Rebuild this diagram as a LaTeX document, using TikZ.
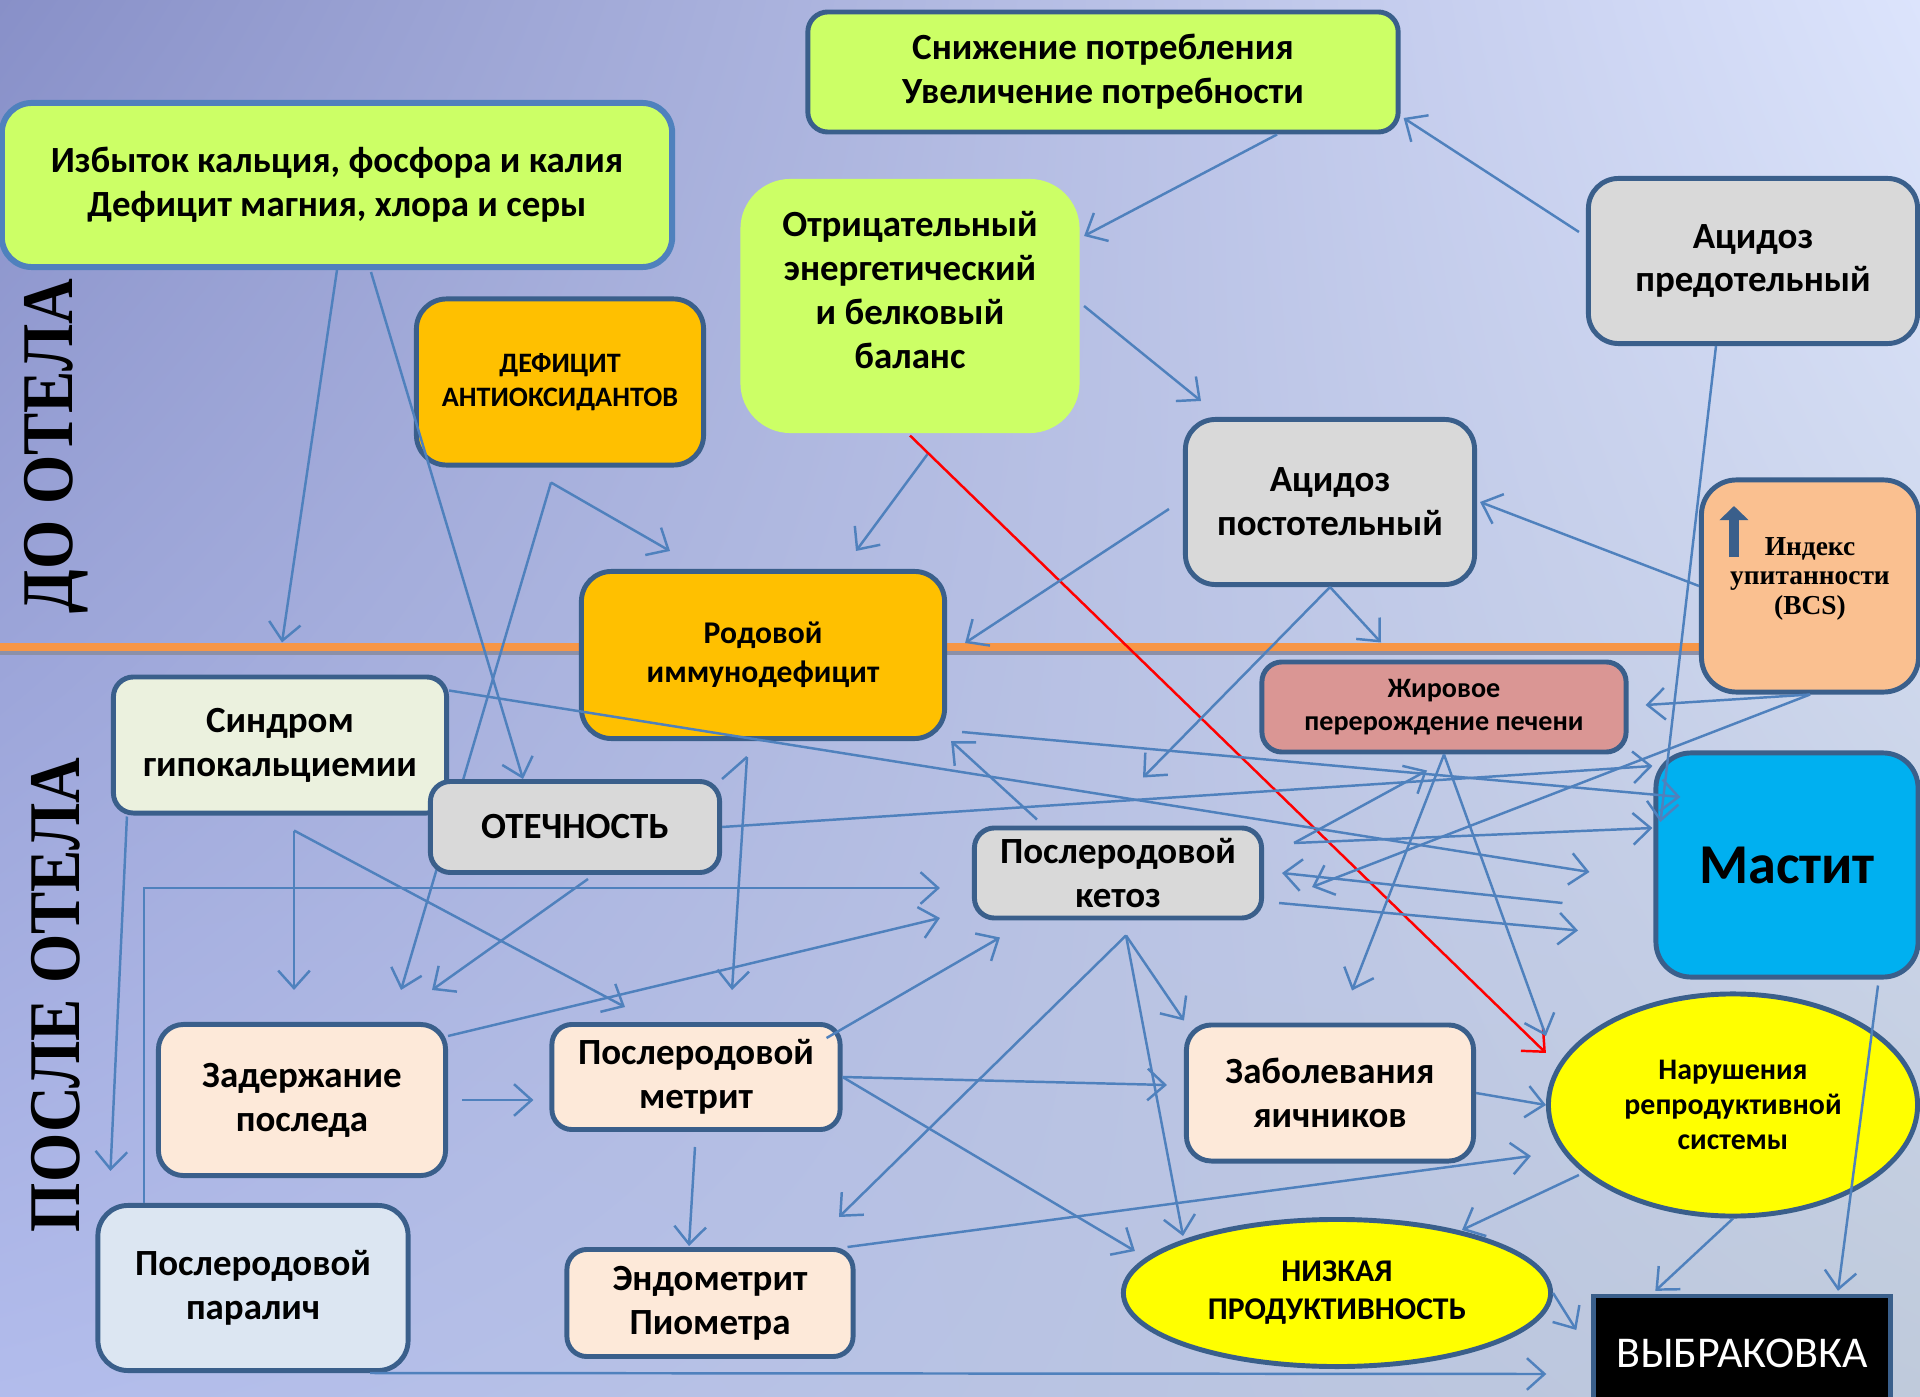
\documentclass[tikz,border=0pt]{standalone}
\usepackage{fontspec}
\setmainfont{Carlito}
\newfontfamily\timesfont{Liberation Serif}
\usetikzlibrary{arrows.meta,shapes.geometric,calc,shadings}

\definecolor{linkblue}{HTML}{4F81BD}
\definecolor{boxline}{HTML}{3A5F8B}
\definecolor{limegreen}{HTML}{CCFF66}
\definecolor{greybox}{HTML}{D9D9D9}
\definecolor{amber}{HTML}{FFC000}
\definecolor{peach}{HTML}{FAC090}
\definecolor{rose}{HTML}{DA9694}
\definecolor{skyblue}{HTML}{00B0F0}
\definecolor{palegreen}{HTML}{EBF1DE}
\definecolor{palepeach}{HTML}{FDE9D9}
\definecolor{paleblue}{HTML}{DCE6F2}
\definecolor{ovalyellow}{HTML}{FFFF00}
\definecolor{sepline}{HTML}{F79646}
\definecolor{sepgrey}{HTML}{8C90A8}
\definecolor{bgUL}{HTML}{8890C8}
\definecolor{bgUR}{HTML}{DCE4FC}
\definecolor{bgLL}{HTML}{B2BCEC}
\definecolor{bgLR}{HTML}{BFCADB}

\pgfdeclarelayer{background}
\pgfsetlayers{background,main}

\tikzset{
  box/.style={draw=boxline, line width=1.4pt, rounded corners=0.2cm, align=center, inner sep=0pt},
  oval/.style={ellipse, draw=boxline, line width=1.4pt, fill=ovalyellow, align=center, inner sep=0pt},
  bigtext/.style={font=\bfseries\fontsize{10.5}{12.5}\selectfont},
  midtext/.style={font=\bfseries\fontsize{9}{11}\selectfont},
  smalltext/.style={font=\bfseries\fontsize{8}{9.5}\selectfont},
  link/.style={draw=linkblue, line width=0.7pt, -{Straight Barb[length=5pt,width=9pt]}},
  plainlink/.style={draw=linkblue, line width=0.7pt}
}

\begin{document}
\begin{tikzpicture}[x=0.01cm, y=-0.01cm]
        \useasboundingbox (0,0) rectangle (1920,1397);

        % do otela
        \node[box, bigtext, fill=limegreen, minimum width=5.9cm, minimum height=1.2cm] (potr) at (1103,72) {Снижение потребления\\Увеличение потребности};
        \node[box, bigtext, fill=limegreen, draw=linkblue, line width=1.7pt, rounded corners=0.3cm, minimum width=6.7cm, minimum height=1.64cm] (izb) at (337,185) {Избыток кальция, фосфора и калия\\Дефицит магния, хлора и серы};
        \node[box, bigtext, fill=limegreen, draw=none, rounded corners=0.5cm, minimum width=3.39cm, minimum height=2.54cm, text depth=0.33cm] (otr) at (910,306) {Отрицательный\\энергетический\\и белковый\\баланс};
        \node[box, bigtext, fill=greybox, rounded corners=0.3cm, minimum width=3.29cm, minimum height=1.65cm] (acpred) at (1753,261) {Ацидоз\\предотельный};
        \node[box, smalltext, fill=amber, rounded corners=0.3cm, minimum width=2.87cm, minimum height=1.66cm] (antiox) at (560,382) {ДЕФИЦИТ\\АНТИОКСИДАНТОВ};
        \node[box, bigtext, fill=greybox, rounded corners=0.3cm, minimum width=2.89cm, minimum height=1.65cm] (acpost) at (1330,502) {Ацидоз\\постотельный};
        \node[box, fill=peach, rounded corners=0.35cm, minimum width=2.17cm, minimum height=2.12cm, text depth=0.2cm, font=\timesfont\bfseries\fontsize{7.8}{8.5}\selectfont] (bcs) at (1810,586) {Индекс\\упитанности\\(BCS)};
        \node[box, midtext, fill=amber, rounded corners=0.3cm, minimum width=3.63cm, minimum height=1.67cm] (rod) at (763,655) {Родовой\\иммунодефицит};

        % posle otela
        \node[box, bigtext, fill=palegreen, minimum width=3.33cm, minimum height=1.36cm] (sindr) at (280,745) {Синдром\\гипокальциемии};
        \node[box, bigtext, fill=greybox, minimum width=2.89cm, minimum height=0.91cm] (otech) at (575,827) {ОТЕЧНОСТЬ};
        \node[box, smalltext, fill=rose, minimum width=3.64cm, minimum height=0.9cm] (zhir) at (1444,707) {Жировое\\перерождение печени};
        \node[box, fill=skyblue, rounded corners=0.35cm, minimum width=2.62cm, minimum height=2.24cm, font=\bfseries\fontsize{16}{18}\selectfont] (mast) at (1787,865) {Мастит};
        \node[box, bigtext, fill=greybox, minimum width=2.87cm, minimum height=0.9cm] (ketoz) at (1118,873) {Послеродовой\\кетоз};
        \node[box, bigtext, fill=palepeach, rounded corners=0.25cm, minimum width=2.87cm, minimum height=1.51cm] (zader) at (302,1100) {Задержание\\последа};
        \node[box, bigtext, fill=palepeach, minimum width=2.88cm, minimum height=1.05cm] (metr) at (696,1077) {Послеродовой\\метрит};
        \node[box, bigtext, fill=palepeach, rounded corners=0.25cm, minimum width=2.87cm, minimum height=1.36cm] (yaich) at (1330,1093) {Заболевания\\яичников};
        \node[oval, smalltext, minimum width=3.69cm, minimum height=2.22cm, font=\bfseries\fontsize{8.5}{10}\selectfont] (narush) at (1733,1105) {Нарушения\\репродуктивной\\системы};
        \node[box, bigtext, fill=paleblue, rounded corners=0.3cm, minimum width=3.1cm, minimum height=1.65cm] (paral) at (253,1288) {Послеродовой\\паралич};
        \node[box, bigtext, fill=palepeach, minimum width=2.86cm, minimum height=1.07cm] (endo) at (710,1303) {Эндометрит\\Пиометра};
        \node[oval, minimum width=4.27cm, minimum height=1.47cm, font=\bfseries\fontsize{9}{10.8}\selectfont] (nizk) at (1337,1293) {НИЗКАЯ\\ПРОДУКТИВНОСТЬ};
        \node[draw=boxline, line width=1.2pt, fill=black, text=white, minimum width=2.97cm, minimum height=1.14cm, inner sep=0pt, font=\fontsize{12.5}{14}\selectfont] (vybr) at (1742,1353) {ВЫБРАКОВКА};

        \node[rotate=90, font=\timesfont\bfseries\fontsize{18}{18}\selectfont] (before) at (56,446) {\scalebox{1}[1.15]{ДО ОТЕЛА}};
        \node[rotate=90, font=\timesfont\bfseries\fontsize{18}{18}\selectfont] (after) at (56,995) {\scalebox{1}[1.15]{ПОСЛЕ ОТЕЛА}};

        \draw[boxline, line width=2.6pt, -{Triangle[length=4pt,width=8pt]}] ($(bcs.west)+(35,-29)$) -- ($(bcs.west)+(35,-80)$);

        \begin{pgfonlayer}{background}
          \shade[upper left=bgUL, upper right=bgUR, lower left=bgLL, lower right=bgLR] (0,0) rectangle (1920,1397);
          \fill[sepline] (0,643) rectangle (1920,651);
          \fill[sepgrey] (0,651) rectangle (1920,655);
          \draw[link] ($(antiox.south)+(-9,15)$) -- ($(zader.north)+(99,-32)$);
        \end{pgfonlayer}

        % connectors
        \draw[link] (izb.south) -- ($(sindr.north)+(2,-32)$);
        \draw[link] ($(izb.south)+(34,2)$) -- ($(otech.north)+(-52,0)$);
        \draw[link] ($(antiox.south)+(-9,15)$) -- ($(rod.north)+(-93,-18)$);
        \draw[link] ($(otr.south)+(18,18)$) -- ($(rod.north)+(93,-18)$);
        \draw[link, draw=red] (otr.south) -- ($(narush.west)+(0,-52)$);
        \draw[link] ($(potr.south)+(174,0)$) -- ($(otr.east)+(2,-70)$);
        \draw[link] ($(acpred.west)+(-7,-29)$) -- ($(potr.east)+(3,46)$);
        \draw[link] ($(otr.east)+(2,0)$) -- ($(acpost.north)+(-129,-16)$);
        \draw[link] ($(acpred.south)+(-37,0)$) -- ($(mast.west)+(7,-43)$);
        \draw[link] (bcs.west) -- ($(acpost.east)+(3,0)$);
        \draw[link] ($(acpost.west)+(-14,7)$) -- ($(rod.east)+(18,-12)$);
        \draw[link] (acpost.south) -- ($(zhir.north)+(-63,-17)$);
        \draw[link] (acpost.south) -- ($(ketoz.north)+(25,-48)$);
        \draw[link] (bcs.south) -- ($(zhir.east)+(17,-2)$);
        \draw[link] (bcs.south) -- ($(ketoz.east)+(48,14)$);
        \draw[link] ($(rod.south east)+(15,-9)$) -- ($(mast.west)+(27,-68)$);
        \draw[link] ($(sindr.north east)+(0,16)$) -- ($(mast.west)+(-64,7)$);
        \draw[link] (otech.east) -- ($(mast.west)+(-1,-99)$);
        \draw[link] ($(ketoz.east)+(30,-30)$) -- ($(zhir.south)+(-17,16)$);
        \draw[link] ($(ketoz.east)+(30,-30)$) -- ($(mast.west)+(-1,-37)$);
        \draw[link] ($(mast.west)+(-91,38)$) -- ($(ketoz.east)+(18,0)$);
        \draw[link] ($(ketoz.east)+(15,30)$) -- ($(narush.north)+(-155,-61)$);
        \draw[link] ($(ketoz.north)+(-81,-6)$) -- ($(rod.south east)+(4,0)$);
        \draw[link] (zhir.south) -- ($(yaich.north)+(22,-32)$);
        \draw[link] (zhir.south) -- ($(narush.west)+(0,-69)$);
        \draw[link] ($(paral.north)+(-109,0)$) |- ($(ketoz.west)+(-32,15)$);
        \draw[link] ($(zader.north east)+(0,14)$) -- ($(ketoz.west)+(-32,45)$);
        \draw[link] ($(metr.north east)+(-16,16)$) -- ($(ketoz.south west)+(28,17)$);
        \draw[link] ($(ketoz.south)+(8,15)$) -- ($(yaich.north west)+(0,-2)$);
        \draw[link] ($(ketoz.south)+(8,15)$) -- ($(nizk.north)+(-154,19)$);
        \draw[link] ($(ketoz.south)+(8,15)$) -- ($(endo.north)+(129,-30)$);
        \draw[link] (metr.east) -- ($(yaich.west)+(-17,-8)$);
        \draw[link] (metr.east) -- ($(nizk.west)+(14,-42)$);
        \draw[link] ($(endo.north east)+(-8,0)$) -- ($(narush.west)+(-15,51)$);
        \draw[link] ($(narush.west)+(33,70)$) -- ($(nizk.north)+(125,13)$);
        \draw[link] (narush.south) -- ($(vybr.north west)+(64,-3)$);
        \draw[link] ($(mast.south)+(91,6)$) -- ($(vybr.north)+(96,-3)$);
        \draw[link] (nizk.east) -- ($(vybr.west)+(-15,-23)$);
        \draw[link] ($(paral.south)+(117,0)$) -- ($(vybr.west)+(-45,21)$);
        \draw[link] ($(otech.south)+(13,4)$) -- ($(zader.north)+(130,-32)$);
        \draw[plainlink] ($(rod.south)+(-16,16)$) -- (otech.north east);
        \draw[link] ($(rod.south)+(-16,16)$) -- ($(metr.north)+(36,-32)$);
        \draw[link] ($(sindr.south)+(14,15)$) -- ($(zader.north)+(-8,-32)$);
        \draw[link] ($(sindr.south)+(14,15)$) -- ($(metr.north)+(-71,-15)$);
        \draw[link] ($(sindr.south west)+(16,1)$) -- ($(paral.north west)+(15,-32)$);
        \draw[link] ($(zader.east)+(14,0)$) -- ($(metr.west)+(-16,23)$);
        \draw[link] ($(metr.south)+(-1,15)$) -- ($(endo.north)+(-21,-1)$);
        \draw[link] (yaich.east) -- (narush.west);
\end{tikzpicture}
\end{document}
